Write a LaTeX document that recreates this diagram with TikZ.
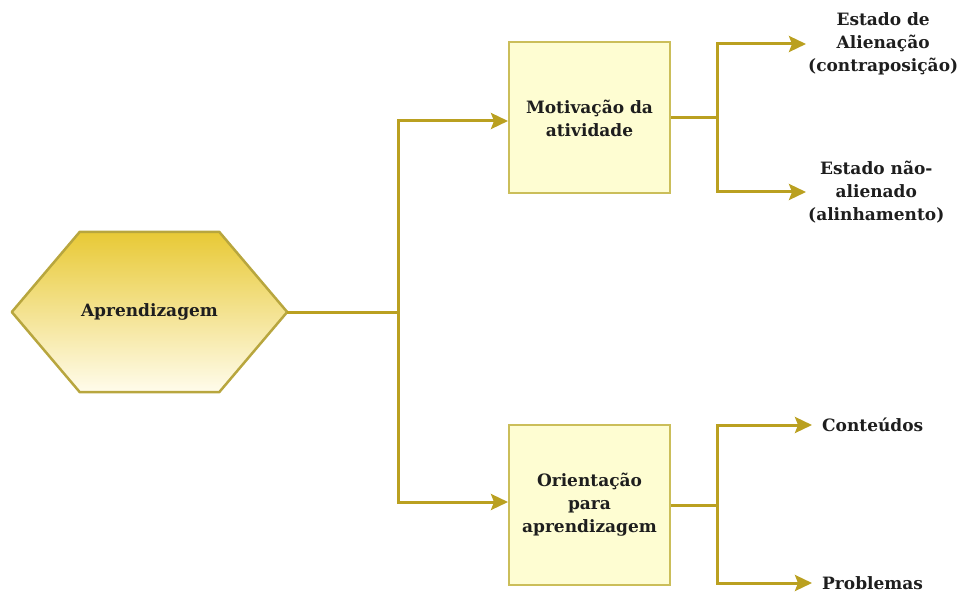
\documentclass[tikz,border=0pt]{standalone}
\usepackage{fontspec}
\setmainfont{DejaVu Serif}
\usetikzlibrary{arrows.meta}
\definecolor{conncol}{HTML}{BAA020}
\definecolor{boxfill}{HTML}{FEFDD2}
\definecolor{boxdraw}{HTML}{CBBE5A}
\definecolor{hexdraw}{HTML}{B8A63E}
\definecolor{hextop}{HTML}{E8C935}
\definecolor{hexbot}{HTML}{FFFCEC}
\definecolor{txt}{HTML}{1E1E1E}
\begin{document}
\begin{tikzpicture}[x=1pt,y=-1pt,
  lbl/.style={font=\bfseries\fontsize{17}{23}\selectfont, text=txt, align=center},
  boxnode/.style={lbl, draw=boxdraw, fill=boxfill, line width=2pt, minimum width=161pt, inner sep=0pt},
  leaf/.style={lbl, inner sep=2pt},
  conn/.style={draw=conncol, line width=3pt},
  arr/.style={conn, -{Stealth[length=17pt,width=16pt,inset=3pt]}}
]
\useasboundingbox (0,0) rectangle (969,596);
% hexagon
\node[minimum width=275pt, minimum height=160pt, inner sep=0pt] (hex) at (149.5,312) {};
\shade[top color=hextop, bottom color=hexbot, draw=hexdraw, line width=2.5pt, line join=round]
  (hex.west) -- ([xshift=68pt]hex.north west) -- ([xshift=-68pt]hex.north east)
  -- (hex.east) -- ([xshift=-68pt]hex.south east) -- ([xshift=68pt]hex.south west) -- cycle;
\node[lbl] (hext) at (hex.center) {Aprendizagem};
% boxes
\node[boxnode, minimum height=151pt] (box1) at (589.5,118) {Motivação da\\atividade};
\node[boxnode, minimum height=160pt] (box2) at (589.5,505) {Orientação\\para\\aprendizagem};
% leaves
\node[leaf, anchor=west] (t1) at (806,44) {Estado de\\Alienação\\(contraposição)};
\node[leaf, anchor=west] (t2) at (806,192) {Estado não-\\alienado\\(alinhamento)};
\node[leaf, anchor=west, inner xsep=10pt] (t3) at (812,425) {Conteúdos};
\node[leaf, anchor=west, inner xsep=10pt] (t4) at (812,583) {Problemas};
% junctions
\coordinate (j1) at (398,312);
\coordinate (j2) at (717,118);
\coordinate (j3) at (717,505);
% connectors
\draw[conn] (hex.east) -- (j1);
\draw[arr] (j1) |- ([yshift=-3pt]box1.west);
\draw[arr] (j1) |- ([yshift=3pt]box2.west);
\draw[conn] (box1.east) -- (j2);
\draw[arr] (j2) |- (t1.west);
\draw[arr] (j2) |- (t2.west);
\draw[conn] (box2.east) -- (j3);
\draw[arr] (j3) |- (t3.west);
\draw[arr] (j3) |- (t4.west);
\end{tikzpicture}
\end{document}
